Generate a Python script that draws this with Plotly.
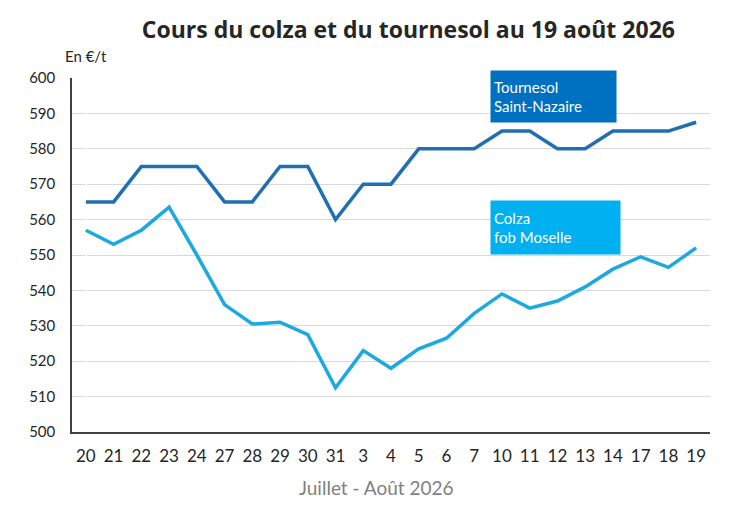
import plotly.graph_objects as go

# Données
jours = ["20", "21", "22", "23", "24", "27", "28", "29", "30", "31", "3", "4",
         "5", "6", "7", "10", "11", "12", "13", "14", "17", "18", "19"]
tournesol = [565, 565, 575, 575, 575, 565, 565, 575, 575, 560, 570, 570,
             580, 580, 580, 585, 585, 580, 580, 585, 585, 585, 587.5]
colza = [557, 553, 557, 563.5, 550, 536, 530.5, 531, 527.5, 512.5, 523, 518,
         523.5, 526.5, 533.5, 539, 535, 537, 541, 546, 549.5, 546.5, 552]
y_ticks = [500, 510, 520, 530, 540, 550, 560, 570, 580, 590, 600]

c_tourn = "#1F6FB2"
c_colza = "#1BA9E0"

x_idx = list(range(len(jours)))

fig = go.Figure()
fig.add_trace(go.Scatter(x=x_idx, y=tournesol, mode="lines", name="Tournesol",
                         line=dict(color=c_tourn, width=3.5)))
fig.add_trace(go.Scatter(x=x_idx, y=colza, mode="lines", name="Colza",
                         line=dict(color=c_colza, width=3.5)))

# la page ajoute 8 px de marge au corps -> marges décalées
fig.update_layout(
    width=747, height=520,
    plot_bgcolor="white", paper_bgcolor="white",
    font=dict(family="Lato", color="#262626"),
    showlegend=False,
    margin=dict(l=64, r=45, t=70, b=96),
    title=dict(text="<b>Cours du colza et du tournesol au 19 août 2026</b>",
               x=0.536, xanchor="center", y=0.957, yanchor="middle",
               font=dict(size=23, family="Open Sans", color="#262626")),
)

fig.update_xaxes(
    tickmode="array", tickvals=x_idx, ticktext=jours,
    range=[-0.5, len(jours) - 0.5],
    showgrid=False, showline=True, linecolor="#404040", linewidth=1.5,
    ticks="", tickfont=dict(size=17, color="#262626"), ticklabelstandoff=8,
)
fig.update_yaxes(
    range=[500, 600], tickvals=y_ticks,
    showgrid=True, gridcolor="#D9D9D9", gridwidth=1,
    showline=True, linecolor="#404040", linewidth=1.5,
    ticks="", tickfont=dict(size=15, color="#262626"), zeroline=False,
    ticklabelstandoff=12,
)

fig.add_annotation(text="Juillet - Août 2026", xref="paper", yref="paper",
                   x=0.478, y=-0.158, xanchor="center", yanchor="middle",
                   showarrow=False, font=dict(size=19, color="#7F7F7F"))

fig.add_annotation(text="En €/t", xref="paper", yref="paper", x=0.022, y=1.03,
                   xanchor="center", yanchor="bottom", showarrow=False,
                   font=dict(size=15, color="#262626"))

fig.add_annotation(text="Tournesol<br>Saint-Nazaire", xref="paper", yref="paper",
                   x=0.655, y=1.024, xanchor="left", yanchor="top", align="left",
                   showarrow=False, bgcolor="#0070C0", width=119, height=45,
                   valign="middle", borderpad=3,
                   font=dict(size=15, color="white"))
fig.add_annotation(text="Colza<br>fob Moselle", xref="paper", yref="paper",
                   x=0.655, y=0.655, xanchor="left", yanchor="top", align="left",
                   showarrow=False, bgcolor="#00B0F0", width=123, height=47,
                   valign="middle", borderpad=3,
                   font=dict(size=15, color="white"))

fig.write_html("out.html")
